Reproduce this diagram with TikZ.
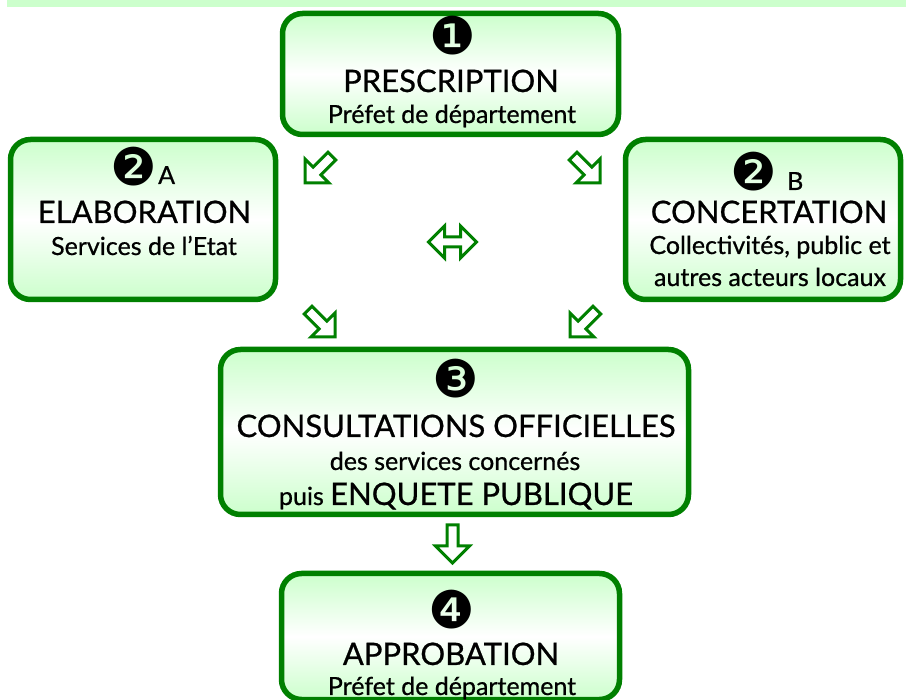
\documentclass[tikz,border=0pt]{standalone}
\usepackage{fontspec}
\setmainfont{Lato}[FakeBold=0.7]
\newfontfamily\dingfont{DejaVu Sans}
\definecolor{boxgreen}{HTML}{008000}
\definecolor{palegreen}{HTML}{CCFFCC}
\tikzset{
  stage/.style={draw=boxgreen, line width=5.5pt, rounded corners=20pt,
    top color=palegreen, bottom color=palegreen, middle color=white,
    inner sep=0pt},
  bigtxt/.style={font=\fontsize{31}{32}\selectfont, anchor=base, inner sep=0pt},
  smalltxt/.style={font=\fontsize{25}{26}\selectfont, anchor=base, inner sep=0pt},
  numtxt/.style={font=\dingfont\fontsize{52}{52}\selectfont, inner sep=0pt,
    anchor=base, text height=30pt, text depth=0pt},
  hollow/.style={draw=boxgreen, line width=3pt, fill=white, line join=miter},
  hollowarrow/.pic={
    \path[hollow] (0,0) -- (-17,17) -- (-17,5.5) -- (-38,5.5) -- (-38,-5.5)
      -- (-17,-5.5) -- (-17,-17) -- cycle;
  },
  twoway/.pic={
    \path[hollow] (-24,0) -- (-8,-16) -- (-8,-5) -- (8,-5) -- (8,-16)
      -- (24,0) -- (8,16) -- (8,5) -- (-8,5) -- (-8,16) -- cycle;
  }
}
\begin{document}
\begin{tikzpicture}[x=1pt,y=-1pt]
\useasboundingbox (0,0) rectangle (906,700);
\fill[palegreen] (7,0) rectangle (906,7);

% boxes
\node[stage, minimum width=336pt, minimum height=121pt] (presc) at (450.5,74) {};
\node[stage, minimum width=265pt, minimum height=160pt] (elab) at (143,219.5) {};
\node[stage, minimum width=275pt, minimum height=160pt] (conc) at (763,219.5) {};
\node[stage, minimum width=468pt, minimum height=165pt] (consult) at (454.5,432) {};
\node[stage, minimum width=338pt, minimum height=126pt] (approb) at (450.5,636.5) {};

% box 1
\node[numtxt] (n1) at (453,55) {❶};
\node[bigtxt] (t1) at (451,92) {PRESCRIPTION};
\node[smalltxt] (s1) at (452,123) {Préfet de département};

% box 2A
\node[numtxt] (n2a) at (133.5,186) {❷};
\node[smalltxt, anchor=base west] (la) at (158,184) {A};
\node[bigtxt] (t2a) at (144.5,223) {ELABORATION};
\node[smalltxt] (s2a) at (144,255) {Services de l’Etat};

% box 2B
\node[numtxt] (n2b) at (754,191) {❷};
\node[smalltxt, anchor=base west] (lb) at (787,190) {B};
\node[bigtxt] (t2b) at (769,223) {CONCERTATION};
\node[smalltxt] (s2b) at (770,254) {Collectivités, public et};
\node[smalltxt] (s2c) at (770,286) {autres acteurs locaux};

% box 3
\node[numtxt] (n3) at (456,398) {❸};
\node[bigtxt] (t3) at (456,437) {CONSULTATIONS OFFICIELLES};
\node[smalltxt] (s3) at (455,470) {des services concernés};
\node[anchor=base, inner sep=0pt] (s3b) at (456,505)
  {{\fontsize{25}{26}\selectfont puis }{\fontsize{31}{32}\selectfont ENQUETE PUBLIQUE}};

% box 4
\node[numtxt] (n4) at (451.5,629) {❹};
\node[bigtxt] (t4) at (451,665) {APPROBATION};
\node[smalltxt] (s4) at (452,695) {Préfet de département};

% arrows
\pic[rotate=-135] at (305,183) {hollowarrow};
\pic[rotate=-45] at (600,183) {hollowarrow};
\pic at (452.5,242) {twoway};
\pic[rotate=-45] at (335,337) {hollowarrow};
\pic[rotate=-135] at (570,337) {hollowarrow};
\pic[rotate=-90] at (452.5,563) {hollowarrow};
\end{tikzpicture}
\end{document}
